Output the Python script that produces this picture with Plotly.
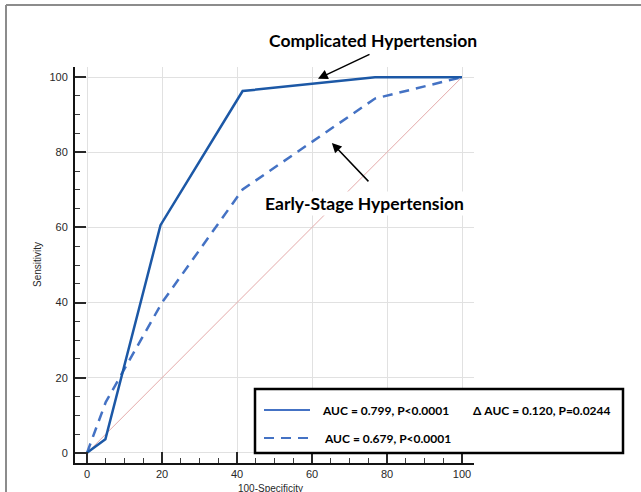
import plotly.graph_objects as go

# Data
comp_x = [0, 4.9, 19.6, 41.5, 76.8, 100]
comp_y = [0, 3.6, 60.6, 96.3, 100, 100]
early_x = [0, 5.0, 20.0, 41.5, 76.8, 100]
early_y = [0, 13.5, 40.0, 70.1, 94.3, 100]
ref_x = [0, 100]
ref_y = [0, 100]
tick_vals = [0, 20, 40, 60, 80, 100]
tick_text = ["0", "20", "40", "60", "80", "100"]
legend_labels = ["AUC = 0.799, P<0.0001", "AUC = 0.679, P<0.0001"]
delta_label = "\u0394 AUC = 0.120, P=0.0244"
label_comp = "Complicated Hypertension"
label_early = "Early-Stage Hypertension"

W, H = 641, 492
L, R, T, B = 75, 167, 67, 29
PW, PH = W - L - R, H - T - B

def px(x):
    return (x - L) / PW

def py(y):
    return (H - B - y) / PH

SOLID = "rgb(28,88,166)"
DASH = "rgb(68,114,196)"

fig = go.Figure()
fig.add_trace(go.Scatter(x=ref_x, y=ref_y, mode="lines",
                         line=dict(color="rgb(228,170,170)", width=1), hoverinfo="skip"))
fig.add_trace(go.Scatter(x=early_x, y=early_y, mode="lines",
                         line=dict(color=DASH, width=2.5, dash="10px,7px")))
fig.add_trace(go.Scatter(x=comp_x, y=comp_y, mode="lines",
                         line=dict(color=SOLID, width=2.5)))

axis_common = dict(
    tickvals=tick_vals, ticktext=tick_text,
    showgrid=True, gridcolor="rgb(225,225,225)", gridwidth=1,
    zeroline=False, showline=True, linecolor="rgb(20,20,20)", linewidth=2,
    ticks="inside", ticklen=11, tickwidth=1.5, tickcolor="rgb(40,40,40)",
    minor=dict(dtick=5, ticks="inside", ticklen=5, tickcolor="rgb(60,60,60)", tickwidth=1, showgrid=False),
    tickfont=dict(family="Liberation Sans, Arial", size=11, color="rgb(40,40,40)"),
    automargin=False,
)

fig.update_layout(
    width=W, height=H,
    margin=dict(l=L, r=R, t=T, b=B),
    paper_bgcolor="white", plot_bgcolor="white",
    showlegend=False,
    xaxis=dict(range=[-3.2, 103.2], ticklabelstandoff=0, **axis_common),
    yaxis=dict(range=[-2.7, 102.7], ticklabelstandoff=3, **axis_common),
)

shapes = []
# outer grey frame
shapes.append(dict(type="line", xref="paper", yref="paper", x0=px(6), x1=px(650), y0=py(5), y1=py(5),
                   line=dict(color="rgb(140,140,140)", width=2)))
shapes.append(dict(type="line", xref="paper", yref="paper", x0=px(6), x1=px(6), y0=py(5), y1=py(500),
                   line=dict(color="rgb(140,140,140)", width=2)))
# legend box
shapes.append(dict(type="rect", xref="paper", yref="paper", x0=px(255), x1=px(623), y0=py(389), y1=py(453),
                   line=dict(color="black", width=2.5), fillcolor="white", layer="above"))
shapes.append(dict(type="line", xref="paper", yref="paper", x0=px(264), x1=px(310), y0=py(410), y1=py(410),
                   line=dict(color=DASH, width=2), layer="above"))
shapes.append(dict(type="line", xref="paper", yref="paper", x0=px(264), x1=px(310), y0=py(438), y1=py(438),
                   line=dict(color=DASH, width=2, dash="10px,7px"), layer="above"))
fig.update_layout(shapes=shapes)

font_b = "Lato, Carlito, Open Sans"
ann = []
ann.append(dict(xref="paper", yref="paper", x=px(320), y=py(410), text="<b>%s</b>" % legend_labels[0],
                showarrow=False, xanchor="left", yanchor="middle",
                font=dict(family=font_b, size=12, color="black")))
ann.append(dict(xref="paper", yref="paper", x=px(322), y=py(438), text="<b>%s</b>" % legend_labels[1],
                showarrow=False, xanchor="left", yanchor="middle",
                font=dict(family=font_b, size=12, color="black")))
ann.append(dict(xref="paper", yref="paper", x=px(471), y=py(410), text="<b>%s</b>" % delta_label,
                showarrow=False, xanchor="left", yanchor="middle",
                font=dict(family=font_b, size=12, color="black")))
# curve labels
ann.append(dict(xref="paper", yref="paper", x=px(373), y=py(40), text="<b>%s</b>" % label_comp,
                showarrow=False, xanchor="center", yanchor="middle", bgcolor="white",
                font=dict(family=font_b, size=17.5, color="black")))
ann.append(dict(xref="paper", yref="paper", x=px(364), y=py(204), text="<b>%s</b>" % label_early,
                showarrow=False, xanchor="center", yanchor="middle", bgcolor="white",
                font=dict(family=font_b, size=17.5, color="black")))
# arrows
ann.append(dict(x=61.6, y=99.6, xref="x", yref="y", text="", showarrow=True, arrowhead=2,
                arrowsize=1.3, arrowwidth=1.5, arrowcolor="black", ax=53, ay=-25))
ann.append(dict(x=65.3, y=82.5, xref="x", yref="y", text="", showarrow=True, arrowhead=2,
                arrowsize=1.3, arrowwidth=1.5, arrowcolor="black", ax=38, ay=40))
# axis titles
ann.append(dict(xref="paper", yref="paper", x=px(37), y=py(265), text="Sensitivity", textangle=-90,
                showarrow=False, xanchor="center", yanchor="middle",
                font=dict(family="Liberation Sans, Arial", size=10, color="rgb(40,40,40)")))
ann.append(dict(xref="paper", yref="paper", x=px(270), y=py(481), text="100-Specificity",
                showarrow=False, xanchor="center", yanchor="top",
                font=dict(family="Liberation Sans, Arial", size=10, color="rgb(40,40,40)")))
fig.update_layout(annotations=ann)

fig.write_html("out.html", config={"displayModeBar": False},
               post_script="document.body.style.margin='0';document.body.style.overflow='hidden';")
